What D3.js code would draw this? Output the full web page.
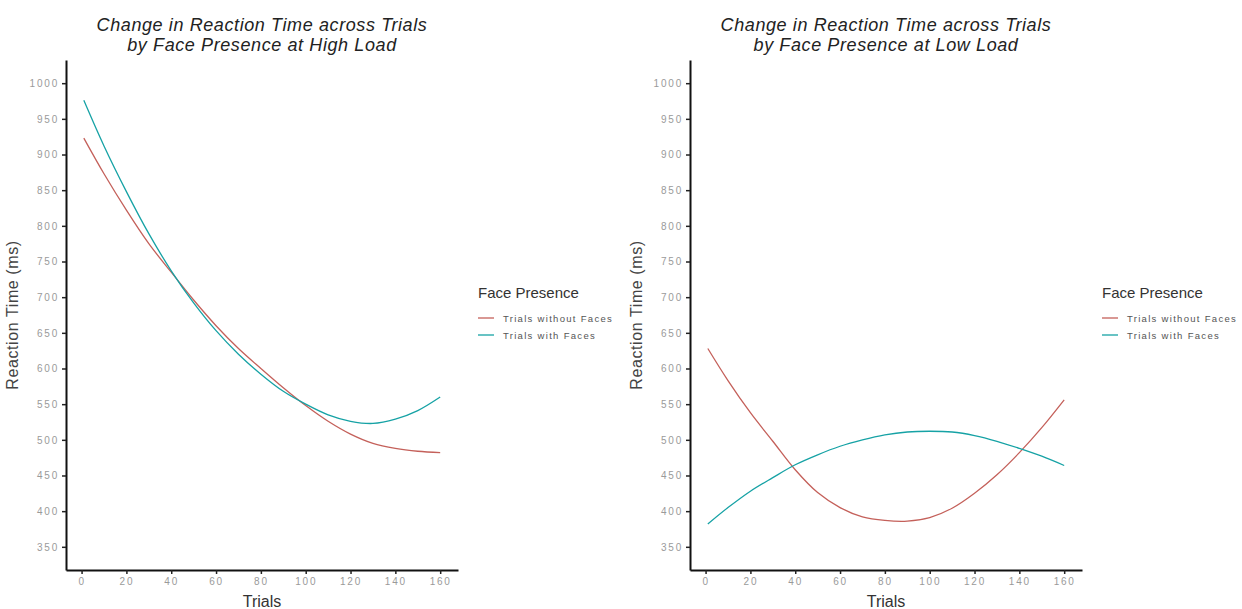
<!DOCTYPE html>
<html>
<head>
<meta charset="utf-8">
<script src="https://cdn.jsdelivr.net/npm/d3@7"></script>
<style>
  html, body { margin: 0; padding: 0; background: #fff; }
  svg { display: block; font-family: "Liberation Sans", Arial, sans-serif; }
</style>
</head>
<body>
<svg id="chart" width="1242" height="609"></svg>
<script>
// ---- data ----
const trials = [1, 10, 20, 30, 40, 50, 60, 70, 80, 90, 100, 110, 120, 130, 140, 150, 160];
const highWithoutFaces = [923, 873, 822, 775, 735, 696, 660, 628, 600, 573, 548, 526, 508, 495, 488, 484, 482];
const highWithFaces    = [976, 912, 848, 789, 737, 692, 653, 620, 592, 568, 550, 535, 526, 523, 529, 541, 560];
const lowWithoutFaces  = [628, 583, 538, 498, 458, 426, 405, 392, 387, 386, 391, 404, 425, 451, 482, 517, 556];
const lowWithFaces     = [382, 405, 428, 447, 465, 479, 491, 500, 507, 511, 512, 511, 506, 498, 488, 477, 464];
const seriesNames = ["Trials without Faces", "Trials with Faces"];
const seriesColors = ["#c4605a", "#16a2a5"];
const yTicks = [350, 400, 450, 500, 550, 600, 650, 700, 750, 800, 850, 900, 950, 1000];
const xTicks = [0, 20, 40, 60, 80, 100, 120, 140, 160];
const titlesHigh = ["Change in Reaction Time across Trials", "by Face Presence at High Load"];
const titlesLow = ["Change in Reaction Time across Trials", "by Face Presence at Low Load"];

const svg = d3.select("#chart");

function panel(cfg) {
  const g = svg.append("g");
  const x = d3.scaleLinear().domain([-6.95, 167.95]).range([cfg.left, cfg.left + 392]);
  const y = d3.scaleLinear().domain([317.5, 1032.5]).range([570, 60]);

  // lines
  const line = d3.line().x(d => x(d[0])).y(d => y(d[1])).curve(d3.curveCatmullRom.alpha(0.5));
  cfg.series.forEach((vals, i) => {
    g.append("path")
      .datum(trials.map((t, k) => [t, vals[k]]))
      .attr("fill", "none")
      .attr("stroke", seriesColors[i])
      .attr("stroke-width", 1.3)
      .attr("d", line);
  });

  // axes
  const yAxis = g.append("g").attr("transform", `translate(${cfg.left},0)`)
    .call(d3.axisLeft(y).tickValues(yTicks).tickFormat(d3.format("d")).tickSize(4).tickPadding(3).tickSizeOuter(0));
  const xAxis = g.append("g").attr("transform", `translate(0,570)`)
    .call(d3.axisBottom(x).tickValues(xTicks).tickFormat(d3.format("d")).tickSize(4).tickPadding(4).tickSizeOuter(0));
  [yAxis, xAxis].forEach(a => {
    a.select(".domain").attr("stroke", "#111").attr("stroke-width", 2);
    a.selectAll(".tick line").attr("stroke", "#222").attr("stroke-width", 1.5);
    a.selectAll(".tick text").attr("fill", "#9a9a9a").attr("font-size", 10)
      .attr("letter-spacing", 1.8).attr("font-family", "Liberation Sans, Arial, sans-serif");
  });

  // titles
  cfg.title.forEach((t, i) => {
    g.append("text").attr("x", cfg.left + 196).attr("y", 31 + i * 20)
      .attr("text-anchor", "middle").attr("font-size", 18).attr("font-style", "italic")
      .attr("letter-spacing", 0.6).attr("fill", "#222").text(t);
  });

  // axis titles
  g.append("text").attr("x", cfg.left + 196).attr("y", 607)
    .attr("text-anchor", "middle").attr("font-size", 16).attr("fill", "#333").text("Trials");
  g.append("text").attr("transform", `translate(${cfg.left - 48},315) rotate(-90)`)
    .attr("text-anchor", "middle").attr("font-size", 16).attr("fill", "#444")
    .attr("letter-spacing", 0.6).text("Reaction Time (ms)");

  // legend
  const lx = cfg.legendX;
  g.append("text").attr("x", lx).attr("y", 298).attr("font-size", 15).attr("fill", "#333").text("Face Presence");
  seriesNames.forEach((name, i) => {
    const yy = 318 + i * 17;
    g.append("line").attr("x1", lx).attr("x2", lx + 16).attr("y1", yy).attr("y2", yy)
      .attr("stroke", seriesColors[i]).attr("stroke-width", 1.3);
    g.append("text").attr("x", lx + 25).attr("y", yy + 3.5).attr("font-size", 9.5)
      .attr("letter-spacing", 1.3).attr("fill", "#555").text(name);
  });
}

panel({ left: 66, series: [highWithoutFaces, highWithFaces], title: titlesHigh, legendX: 478 });
panel({ left: 690, series: [lowWithoutFaces, lowWithFaces], title: titlesLow, legendX: 1102 });
</script>
</body>
</html>
